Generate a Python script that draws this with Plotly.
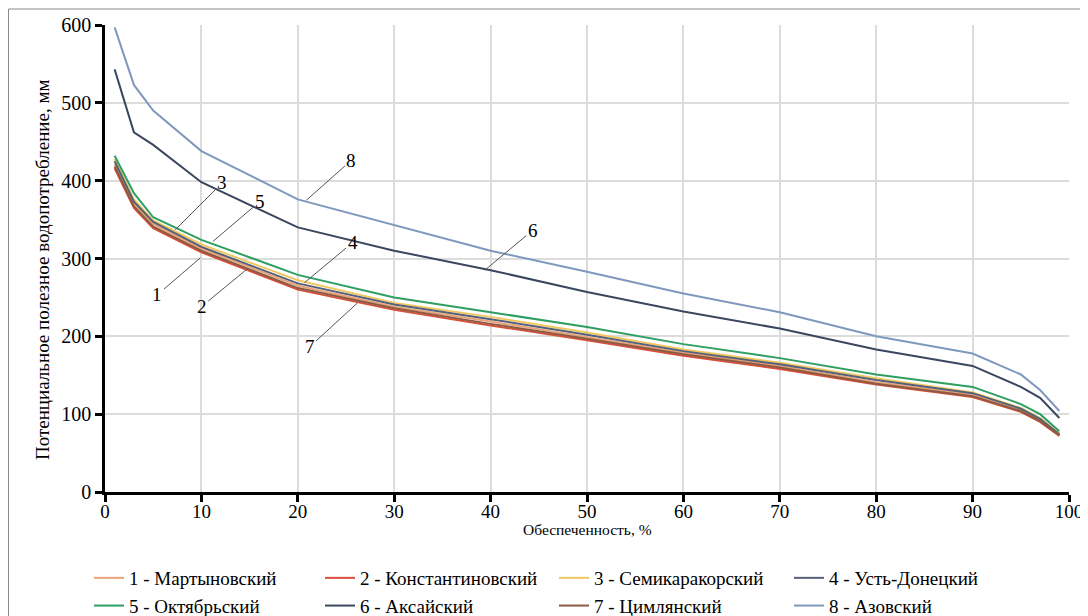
import plotly.graph_objects as go

x_vals = [1, 3, 5, 10, 20, 30, 40, 50, 60, 70, 80, 90, 95, 97, 99]

s1_martynovsky = [421, 370, 344, 313, 265, 238, 219, 199, 179, 162, 141, 125, 105, 92, 74]
s2_konstantinovsky = [416, 365, 339, 308, 260, 234, 214, 195, 175, 158, 138, 122, 103, 90, 72]
s3_semikarakorsky = [428, 376, 349, 318, 272, 243, 225, 205, 183, 166, 146, 128, 108, 95, 75]
s4_ust_donetsky = [425, 373, 347, 315, 268, 241, 222, 202, 181, 164, 144, 127, 107, 94, 74]
s5_oktyabrsky = [432, 384, 353, 324, 279, 250, 231, 212, 190, 172, 151, 135, 113, 100, 78]
s6_aksaisky = [543, 462, 446, 398, 340, 310, 285, 257, 232, 210, 183, 162, 135, 121, 95]
s7_tsimlyansky = [418, 367, 341, 310, 262, 236, 216, 197, 177, 160, 139, 123, 104, 91, 73]
s8_azovsky = [597, 523, 490, 438, 376, 343, 310, 283, 255, 231, 200, 178, 151, 131, 104]

names = ["1 - Мартыновский", "2 - Константиновский", "3 - Семикаракорский", "4 - Усть-Донецкий",
         "5 - Октябрьский", "6 - Аксайский", "7 - Цимлянский", "8 - Азовский"]
series = [s1_martynovsky, s2_konstantinovsky, s3_semikarakorsky, s4_ust_donetsky,
          s5_oktyabrsky, s6_aksaisky, s7_tsimlyansky, s8_azovsky]
colors = ["#E8A478", "#D9503A", "#F0C860", "#55607A", "#2E9E62", "#3A475F", "#8E5A42", "#7E98BE"]
legend_ids = ["legend", "legend2", "legend3", "legend4", "legend", "legend2", "legend3", "legend4"]

# annotation labels: (label, x, y on curve, ax, ay)
ann_labels = ["8", "3", "5", "4", "1", "2", "7", "6"]
ann_x = [20.9, 7.3, 11.2, 20.7, 9.9, 14.7, 26.2, 39.4]
ann_y = [375, 337, 322, 269, 301, 286, 243, 285]
ann_ax = [45, 47, 47, 48, -43, -45, -48, 48]
ann_ay = [-40, -47, -40, -40, 37, 37, 44, -40]

# the page body has an 8px margin; figure coordinates = screen coordinates - 8
OFF = 8
W, H = 1088 - OFF, 616 - OFF
PLOT_L, PLOT_R, PLOT_T, PLOT_B = 105 - OFF, 1069 - OFF, 25 - OFF, 492 - OFF
PW, PH = PLOT_R - PLOT_L, PLOT_B - PLOT_T


def px_x(sx):
    return (sx - OFF - PLOT_L) / PW


def px_y(sy):
    return (PLOT_B - (sy - OFF)) / PH


fig = go.Figure()
for name, ys, c, lg in zip(names, series, colors, legend_ids):
    fig.add_trace(go.Scatter(x=x_vals, y=ys, mode="lines", name=name, legend=lg,
                             line=dict(color=c, width=2)))

for lab, ax_, ay_, dx, dy in zip(ann_labels, ann_x, ann_y, ann_ax, ann_ay):
    fig.add_annotation(x=ax_, y=ay_, text=lab, showarrow=True, arrowhead=0,
                       arrowcolor="#555555", arrowwidth=1, ax=dx, ay=dy,
                       font=dict(family="Liberation Serif", size=19, color="black"))

# axis titles as paper annotations
fig.add_annotation(xref="paper", yref="paper", x=0.5, y=px_y(529),
                   text="Обеспеченность, %", showarrow=False, xanchor="center", yanchor="middle",
                   font=dict(family="Liberation Serif", size=15.5, color="black"))
fig.add_annotation(xref="paper", yref="paper", x=px_x(42), y=px_y(270),
                   text="Потенциальное полезное водопотребление, мм", textangle=-90,
                   showarrow=False, xanchor="center", yanchor="middle",
                   font=dict(family="Liberation Serif", size=19, color="black"))

fig.add_shape(type="rect", xref="paper", yref="paper",
              x0=px_x(8.5), x1=px_x(1081), y0=px_y(624), y1=px_y(9),
              line=dict(color="#8a8a8a", width=1), fillcolor="rgba(0,0,0,0)", layer="below")

leg_font = dict(family="Liberation Serif", size=19, color="black")
leg_common = dict(orientation="v", yanchor="top", y=px_y(559), xanchor="left",
                  font=leg_font, bgcolor="rgba(0,0,0,0)", tracegroupgap=0, itemwidth=30)
col_px = [89, 320, 554, 789]

fig.update_layout(
    width=W, height=H,
    margin=dict(l=PLOT_L, r=W - PLOT_R, t=PLOT_T, b=H - PLOT_B, autoexpand=False),
    paper_bgcolor="white", plot_bgcolor="white",
    font=dict(family="Liberation Serif", color="black"),
    showlegend=True,
    legend=dict(x=px_x(col_px[0]), **leg_common),
    legend2=dict(x=px_x(col_px[1]), **leg_common),
    legend3=dict(x=px_x(col_px[2]), **leg_common),
    legend4=dict(x=px_x(col_px[3]), **leg_common),
    xaxis=dict(range=[0, 100], tickvals=[0, 10, 20, 30, 40, 50, 60, 70, 80, 90, 100],
               showgrid=True, gridcolor="#dcdcdc", gridwidth=1.5,
               showline=True, linecolor="black", linewidth=2.5,
               ticks="outside", ticklen=7, tickwidth=2.5, tickcolor="black",
               tickfont=dict(family="Liberation Serif", size=19), ticklabelstandoff=-7,
               zeroline=False, automargin=False),
    yaxis=dict(range=[0, 600], tickvals=[0, 100, 200, 300, 400, 500, 600],
               showgrid=True, gridcolor="#dcdcdc", gridwidth=1.5,
               showline=True, linecolor="black", linewidth=2.5,
               ticks="outside", ticklen=7, tickwidth=2.5, tickcolor="black",
               tickfont=dict(family="Liberation Serif", size=20),
               zeroline=False, automargin=False),
)

fig.write_html("out.html")
